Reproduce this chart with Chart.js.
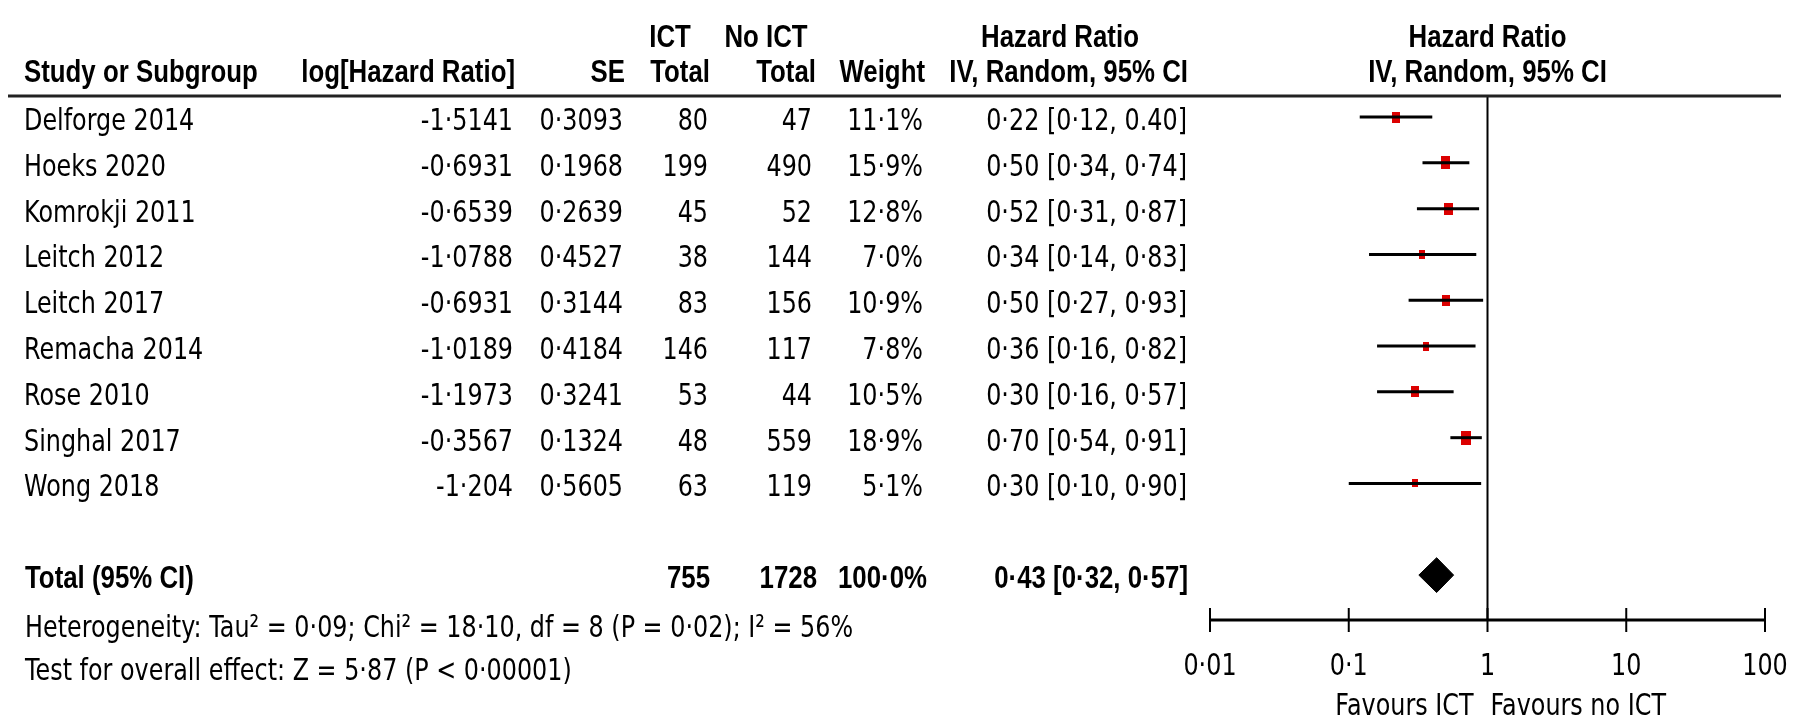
<!DOCTYPE html>
<html>
<head>
<meta charset="utf-8">
<script src="https://cdn.jsdelivr.net/npm/chart.js@4.4.1/dist/chart.umd.min.js"></script>
<style>
  html, body { margin: 0; padding: 0; background: #fff; }
  #wrap { width: 1800px; height: 720px; position: relative; }
</style>
</head>
<body>
<div id="wrap"><canvas id="forest"></canvas></div>
<script>
// study rows
var studies = ['Delforge 2014', 'Hoeks 2020', 'Komrokji 2011', 'Leitch 2012', 'Leitch 2017',
               'Remacha 2014', 'Rose 2010', 'Singhal 2017', 'Wong 2018'];
var logHR = ['-1·5141', '-0·6931', '-0·6539', '-1·0788', '-0·6931', '-1·0189', '-1·1973', '-0·3567', '-1·204'];
var seVals = ['0·3093', '0·1968', '0·2639', '0·4527', '0·3144', '0·4184', '0·3241', '0·1324', '0·5605'];
var ictTotal = [80, 199, 45, 38, 83, 146, 53, 48, 63];
var noIctTotal = [47, 490, 52, 144, 156, 117, 44, 559, 119];
var weights = [11.1, 15.9, 12.8, 7.0, 10.9, 7.8, 10.5, 18.9, 5.1];
var hr = [0.22, 0.50, 0.52, 0.34, 0.50, 0.36, 0.30, 0.70, 0.30];
var ciLow = [0.12, 0.34, 0.31, 0.14, 0.27, 0.16, 0.16, 0.54, 0.10];
var ciHigh = [0.40, 0.74, 0.87, 0.83, 0.93, 0.82, 0.57, 0.91, 0.90];
var hrLabels = ['0·22 [0·12, 0.40]', '0·50 [0·34, 0·74]', '0·52 [0·31, 0·87]', '0·34 [0·14, 0·83]',
                '0·50 [0·27, 0·93]', '0·36 [0·16, 0·82]', '0·30 [0·16, 0·57]', '0·70 [0·54, 0·91]',
                '0·30 [0·10, 0·90]'];

// pooled result
var totalHr = 0.43, totalLow = 0.32, totalHigh = 0.57;
var totalIct = 755, totalNoIct = 1728;
var totalLabel = '0·43 [0·32, 0·57]';
var totalRow = 10;

// x axis
var tickValues = [0.01, 0.1, 1, 10, 100];
var tickLabels = ['0·01', '0·1', '1', '10', '100'];

var hetText = 'Heterogeneity: Tau² = 0·09; Chi² = 18·10, df = 8 (P = 0·02); I² = 56%';
var testText = 'Test for overall effect: Z = 5·87 (P < 0·00001)';

function pct(w) { return w.toFixed(1).replace('.', '·') + '%'; }

// weighted box for each study
function box(w) {
    var h = Math.round(3.2 * Math.sqrt(w) + 0.5);
    var wd = Math.round(h * 0.72);
    var c = document.createElement('canvas');
    c.width = wd; c.height = h;
    var g = c.getContext('2d');
    g.fillStyle = '#dc0000';
    g.fillRect(0, 0, wd, h);
    return c;
}

var datasets = [];
for (let i = 0; i < studies.length; i++) {
    datasets.push({
        type: 'line',
        data: [{x: ciLow[i], y: i}, {x: ciHigh[i], y: i}],
        borderColor: '#000',
        borderWidth: 3,
        pointRadius: 0,
        fill: false
    });
}
datasets.push({
    type: 'scatter',
    data: hr.map(function (v, i) { return {x: v, y: i}; }),
    pointStyle: weights.map(box),
    pointRadius: 5
});
var dh = 0.38;
datasets.push({
    type: 'line',
    data: [{x: totalLow, y: totalRow}, {x: totalHr, y: totalRow - dh}, {x: totalHigh, y: totalRow},
           {x: totalHr, y: totalRow + dh}, {x: totalLow, y: totalRow}],
    borderColor: '#000',
    backgroundColor: '#000',
    borderWidth: 1,
    pointRadius: 0,
    fill: 'shape'
});

function txt(ctx, s, x, y, align, bold) {
    ctx.save();
    ctx.translate(x, y);
    ctx.scale(bold ? 0.807 : 0.77, 1);
    ctx.font = bold ? 'bold 32px "Liberation Sans"' : '31px "DejaVu Sans"';
    ctx.textAlign = align;
    ctx.textBaseline = 'alphabetic';
    ctx.fillStyle = '#000';
    ctx.fillText(s, 0, 0);
    ctx.restore();
}

var tablePlugin = {
    id: 'forestTable',
    beforeDatasetsDraw: function (chart) {
        var ctx = chart.ctx, xs = chart.scales.x, ys = chart.scales.y, a = chart.chartArea;
        var x1 = xs.getPixelForValue(1);
        ctx.save();
        ctx.strokeStyle = '#000';
        // line of no effect
        ctx.lineWidth = 2;
        ctx.beginPath();
        ctx.moveTo(x1, a.top);
        ctx.lineTo(x1, a.bottom);
        ctx.stroke();
        // x axis
        ctx.lineWidth = 3;
        ctx.beginPath();
        ctx.moveTo(xs.getPixelForValue(tickValues[0]), a.bottom);
        ctx.lineTo(xs.getPixelForValue(tickValues[tickValues.length - 1]), a.bottom);
        ctx.stroke();
        ctx.lineWidth = 2;
        tickValues.forEach(function (v, i) {
            var px = xs.getPixelForValue(v);
            ctx.beginPath();
            ctx.moveTo(px, a.bottom - 12);
            ctx.lineTo(px, a.bottom + 12);
            ctx.stroke();
            txt(ctx, tickLabels[i], px, a.bottom + 55, 'center', false);
        });
        txt(ctx, 'Favours ICT', x1 - 14, 715, 'right', false);
        txt(ctx, 'Favours no ICT', x1 + 3, 715, 'left', false);

        // header rule
        ctx.strokeStyle = '#222';
        ctx.lineWidth = 3;
        ctx.beginPath();
        ctx.moveTo(8, a.top - 1);
        ctx.lineTo(1781, a.top - 1);
        ctx.stroke();
        ctx.restore();

        // headers
        txt(ctx, 'ICT', 670, 47, 'center', true);
        txt(ctx, 'No ICT', 766, 47, 'center', true);
        txt(ctx, 'Hazard Ratio', 1060, 47, 'center', true);
        txt(ctx, 'Hazard Ratio', x1, 47, 'center', true);
        txt(ctx, 'Study or Subgroup', 24, 82, 'left', true);
        txt(ctx, 'log[Hazard Ratio]', 515, 82, 'right', true);
        txt(ctx, 'SE', 625, 82, 'right', true);
        txt(ctx, 'Total', 710, 82, 'right', true);
        txt(ctx, 'Total', 816, 82, 'right', true);
        txt(ctx, 'Weight', 925, 82, 'right', true);
        txt(ctx, 'IV, Random, 95% CI', 1188, 82, 'right', true);
        txt(ctx, 'IV, Random, 95% CI', x1, 82, 'center', true);

        // study rows
        for (let i = 0; i < studies.length; i++) {
            var y = ys.getPixelForValue(i) + 13;
            txt(ctx, studies[i], 24, y, 'left', false);
            txt(ctx, logHR[i], 513, y, 'right', false);
            txt(ctx, seVals[i], 623, y, 'right', false);
            txt(ctx, String(ictTotal[i]), 708, y, 'right', false);
            txt(ctx, String(noIctTotal[i]), 812, y, 'right', false);
            txt(ctx, pct(weights[i]), 923, y, 'right', false);
            txt(ctx, hrLabels[i], 1187, y, 'right', false);
        }

        // total row
        var ty = ys.getPixelForValue(totalRow) + 13;
        txt(ctx, 'Total (95% CI)', 25, ty, 'left', true);
        txt(ctx, String(totalIct), 710, ty, 'right', true);
        txt(ctx, String(totalNoIct), 817, ty, 'right', true);
        txt(ctx, pct(weights.reduce(function (s, w) { return s + w; }, 0)), 927, ty, 'right', true);
        txt(ctx, totalLabel, 1188, ty, 'right', true);

        txt(ctx, hetText, 25, 637, 'left', false);
        txt(ctx, testText, 25, 680, 'left', false);
    }
};

new Chart(document.getElementById('forest'), {
    type: 'scatter',
    data: { datasets: datasets },
    options: {
        responsive: true,
        maintainAspectRatio: false,
        animation: false,
        layout: { padding: { left: 1210, right: 35, top: 97, bottom: 100 } },
        scales: {
            x: { type: 'logarithmic', min: 0.01, max: 100, display: false },
            y: { type: 'linear', min: -0.437, max: 10.98, reverse: true, display: false }
        },
        plugins: {
            legend: { display: false },
            tooltip: { enabled: false }
        }
    },
    plugins: [tablePlugin]
});
</script>
</body>
</html>
